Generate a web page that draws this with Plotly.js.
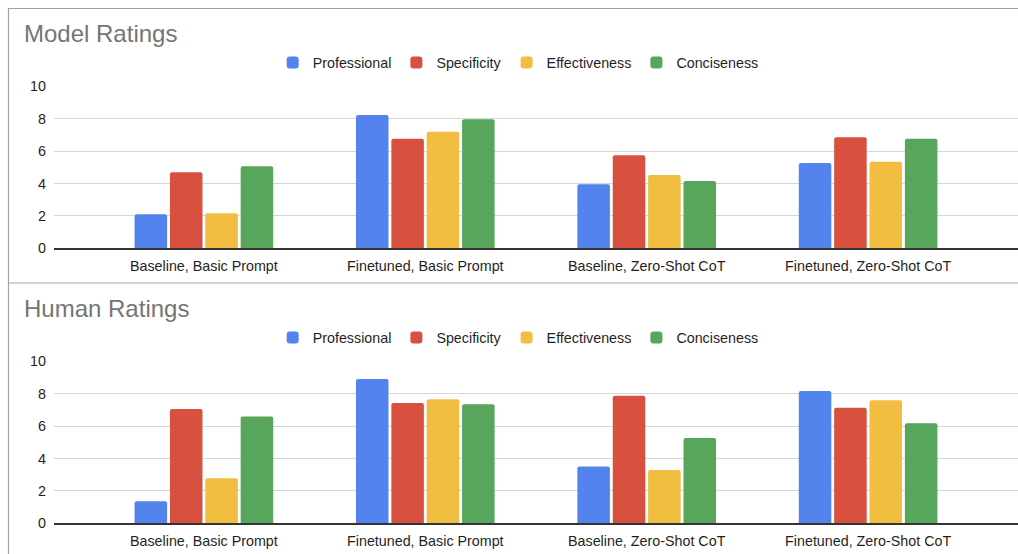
<!DOCTYPE html>
<html>
<head>
<meta charset="utf-8">
<script src="https://cdn.plot.ly/plotly-3.0.1.min.js"></script>
<style>
  html, body { margin: 0; padding: 0; background: #fff; }
  #chart { width: 1018px; height: 554px; }
</style>
</head>
<body>
<div id="chart"></div>
<script>
// ---- data ----
const categories = ["Baseline, Basic Prompt", "Finetuned, Basic Prompt", "Baseline, Zero-Shot CoT", "Finetuned, Zero-Shot CoT"];
const seriesNames = ["Professional", "Specificity", "Effectiveness", "Conciseness"];
const seriesColors = ["#5383EC", "#D85140", "#F1BE42", "#58A55C"];

const modelProfessional  = [2.1, 8.23, 3.95, 5.27];
const modelSpecificity   = [4.69, 6.77, 5.74, 6.85];
const modelEffectiveness = [2.16, 7.2, 4.52, 5.35];
const modelConciseness   = [5.06, 7.96, 4.15, 6.77];

const humanProfessional  = [1.36, 8.91, 3.5, 8.17];
const humanSpecificity   = [7.06, 7.43, 7.88, 7.14];
const humanEffectiveness = [2.78, 7.65, 3.29, 7.59];
const humanConciseness   = [6.6, 7.35, 5.27, 6.17];

const yTicks = [0, 2, 4, 6, 8, 10];
const chartTitles = ["Model Ratings", "Human Ratings"];

// ---- build ----
const W = 1018, H = 554;
const px = v => v / W;
const py = v => (H - v) / H;

const modelSeries = [modelProfessional, modelSpecificity, modelEffectiveness, modelConciseness];
const humanSeries = [humanProfessional, humanSpecificity, humanEffectiveness, humanConciseness];

const traces = [];
modelSeries.forEach((vals, i) => traces.push({
  type: "bar", x: categories, y: vals, name: seriesNames[i],
  marker: { color: seriesColors[i], cornerradius: 2 },
  xaxis: "x", yaxis: "y", legend: "legend", hoverinfo: "skip"
}));
humanSeries.forEach((vals, i) => traces.push({
  type: "bar", x: categories, y: vals, name: seriesNames[i],
  marker: { color: seriesColors[i], cornerradius: 2 },
  xaxis: "x2", yaxis: "y2", legend: "legend2", hoverinfo: "skip"
}));

const font = { family: "Liberation Sans, Arial, sans-serif", size: 14.3, color: "#1f1f1f" };
const xRange = [-0.677, 3.677];

function xAxis(anchor) {
  return {
    domain: [px(54), 1], anchor: anchor, type: "category", range: xRange,
    showgrid: false, showline: true, linecolor: "#333333", linewidth: 1.3,
    ticks: "", ticklabelstandoff: 4, tickfont: font, fixedrange: true
  };
}
function yAxis(anchor, top0, top10) {
  return {
    domain: [py(top0), py(top10)], anchor: anchor, range: [0, 10],
    tickvals: yTicks, ticktext: yTicks.map(String),
    showgrid: true, gridcolor: "#d6d6d6", gridwidth: 1,
    zeroline: false, showline: false, ticks: "", ticklabelstandoff: 7,
    tickfont: font, fixedrange: true
  };
}
function legendAt(yc) {
  return {
    orientation: "h", x: px(272.7), xanchor: "left", y: py(yc), yanchor: "middle",
    font: font, bgcolor: "rgba(0,0,0,0)", borderwidth: 0, traceorder: "normal"
  };
}

const borderColor = "#a3a3a3";
const titleFont = { family: "Liberation Sans, Arial, sans-serif", size: 24, color: "#757575" };
const layout = {
  width: W, height: H,
  margin: { l: 0, r: 0, t: 0, b: 0, pad: 0 },
  paper_bgcolor: "#ffffff", plot_bgcolor: "#ffffff",
  font: font,
  barmode: "group", bargap: 0.361, bargroupgap: 0.08,
  xaxis: xAxis("y"),
  yaxis: yAxis("x", 248.3, 86.3),
  xaxis2: xAxis("y2"),
  yaxis2: yAxis("x2", 523.3, 361.3),
  legend: legendAt(62.7),
  legend2: legendAt(337.7),
  showlegend: true,
  annotations: [
    { text: chartTitles[0], xref: "paper", yref: "paper", x: px(22), y: py(34), xanchor: "left", yanchor: "middle",
      showarrow: false, font: titleFont },
    { text: chartTitles[1], xref: "paper", yref: "paper", x: px(22), y: py(309), xanchor: "left", yanchor: "middle",
      showarrow: false, font: titleFont }
  ],
  shapes: [
    { type: "line", xref: "paper", yref: "paper", x0: px(8), x1: 1, y0: py(8.5), y1: py(8.5), line: { color: borderColor, width: 1.2 } },
    { type: "line", xref: "paper", yref: "paper", x0: px(8.5), x1: px(8.5), y0: py(8), y1: 0, line: { color: borderColor, width: 1.2 } },
    { type: "line", xref: "paper", yref: "paper", x0: px(8), x1: 1, y0: py(283), y1: py(283), line: { color: borderColor, width: 1.2 } }
  ]
};

Plotly.newPlot("chart", traces, layout, { staticPlot: true, displayModeBar: false });
</script>
</body>
</html>
